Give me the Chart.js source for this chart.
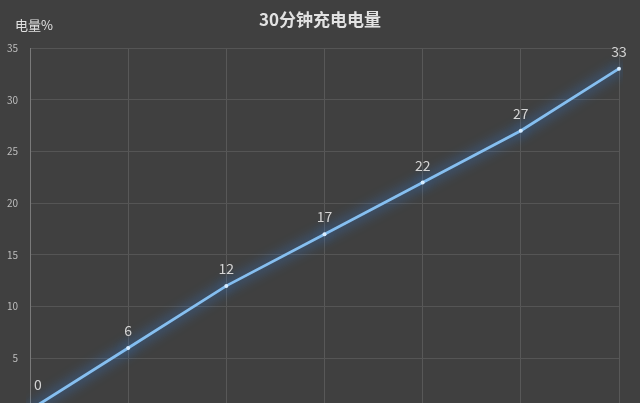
<!DOCTYPE html>
<html>
<head>
<meta charset="utf-8">
<script src="https://cdn.jsdelivr.net/npm/chart.js@4"></script>
<style>
  html,body{margin:0;padding:0;background:#404040;overflow:hidden;}
  #wrap{position:relative;width:640px;height:430px;}
</style>
</head>
<body>
<div id="wrap"><canvas id="c" width="640" height="430"></canvas></div>
<script>
// chart data
const titleText = '30分钟充电电量';
const yLabel = '电量%';
const minutes = ['0','5','10','15','20','25','30'];
const charge = [0, 6, 12, 17, 22, 27, 33];
const yTicks = [0, 5, 10, 15, 20, 25, 30, 35];

const FONT = '"Noto Sans CJK SC", "Noto Sans", sans-serif';

// glow under the line
const glow = {
  id:'glow',
  beforeDatasetDraw(chart){
    const ctx = chart.ctx;
    ctx.save();
    ctx.shadowColor = 'rgba(50,140,255,1)';
    ctx.shadowBlur = 13;
  },
  afterDatasetDraw(chart){ chart.ctx.restore(); }
};

// title, axis caption and point values
const texts = {
  id:'texts',
  afterDraw(chart){
    const ctx = chart.ctx;
    ctx.save();
    ctx.fillStyle = '#e2e2e2';
    ctx.textAlign = 'center'; ctx.textBaseline = 'middle';
    ctx.font = 'bold 17px ' + FONT;
    ctx.fillText(titleText, 320, 20);
    ctx.textAlign = 'left';
    ctx.font = '13px ' + FONT;
    ctx.fillText(yLabel, 15, 25);
    ctx.fillStyle = '#d4d4d4';
    ctx.textAlign = 'center';
    ctx.font = '14px ' + FONT;
    const meta = chart.getDatasetMeta(0);
    meta.data.forEach((p,i)=>{
      if(i===0) ctx.fillText(String(charge[i]), p.x + 8, p.y - 25);
      else ctx.fillText(String(charge[i]), p.x, p.y - 17);
    });
    ctx.restore();
  }
};

new Chart(document.getElementById('c'), {
  type:'line',
  data:{
    labels: minutes,
    datasets:[{
      data: charge,
      borderColor:'#86bff0',
      borderWidth:2.8,
      pointRadius:2,
      pointBackgroundColor:'#d6ecff',
      pointBorderWidth:0,
      tension:0,
      fill:false
    }]
  },
  options:{
    responsive:false,
    animation:false,
    layout:{ padding:{ top:48, right:21, bottom:20, left:0 } },
    plugins:{ legend:{display:false}, tooltip:{enabled:false} },
    scales:{
      x:{
        offset:false,
        grid:{ color:'#585858', lineWidth:1, drawTicks:false },
        border:{ display:false },
        ticks:{ display:false },
        afterFit(s){ s.height = 0; }
      },
      y:{
        min:0, max:35,
        afterBuildTicks(s){ s.ticks = yTicks.map(v=>({value:v})); },
        grid:{ color:'#555555', lineWidth:1, drawTicks:false },
        border:{ display:true, color:'#7a7a7a', width:1 },
        ticks:{ color:'#bdbdbd', padding:12, font:{ size:10, family:FONT } },
        afterFit(s){ s.width = 30; }
      }
    }
  },
  plugins:[glow, texts]
});
</script>
</body>
</html>
